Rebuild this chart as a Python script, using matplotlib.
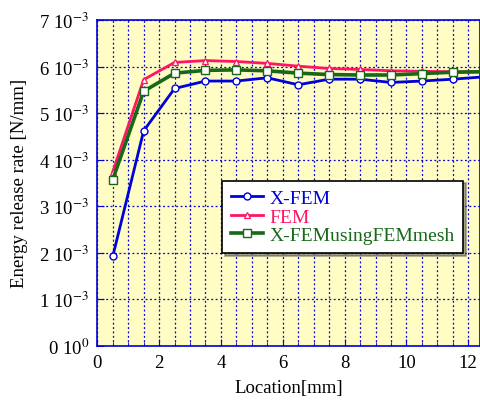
import matplotlib.pyplot as plt
from matplotlib.ticker import MultipleLocator

# ==================== 数据 ====================
location = [0.5, 1.5, 2.5, 3.5, 4.5, 5.5, 6.5, 7.5, 8.5, 9.5, 10.5, 11.5, 12.5]
xfem = [1.92, 4.62, 5.53, 5.69, 5.69, 5.76, 5.61, 5.73, 5.73, 5.66, 5.69, 5.73, 5.78]
fem = [3.74, 5.72, 6.09, 6.13, 6.11, 6.07, 6.01, 5.96, 5.94, 5.91, 5.90, 5.89, 5.89]
xfem_fem_mesh = [3.57, 5.47, 5.86, 5.92, 5.93, 5.91, 5.86, 5.83, 5.82, 5.82, 5.85, 5.88, 5.89]

series_names = ['X-FEM', 'FEM', 'X-FEMusingFEMmesh']
y_ticks = [0, 1, 2, 3, 4, 5, 6, 7]
y_tick_labels = ['0 10$^{0}$'] + ['%d 10$^{-3}$' % v for v in y_ticks[1:]]
x_ticks = [0, 2, 4, 6, 8, 10, 12]

# ==================== 样式 ====================
plt.rcParams['font.family'] = ['Liberation Serif', 'DejaVu Serif']
plt.rcParams['mathtext.fontset'] = 'stix'

BLUE = '#0000d8'
PINK = '#ff1466'
GREEN = '#186818'
BG = '#fffcc4'

fig = plt.figure(figsize=(4.8, 4.06), dpi=100)
ax = fig.add_axes([0.2027, 0.146, 0.7973, 0.802])
ax.set_facecolor(BG)

ax.plot(location, [v * 1e-3 for v in xfem], color=BLUE, lw=2.0, marker='o',
        markersize=5, markerfacecolor='white', markeredgecolor=BLUE,
        markeredgewidth=1.0, label=series_names[0], zorder=3)
ax.plot(location, [v * 1e-3 for v in fem], color=PINK, lw=2.0, marker='^',
        markersize=4, markerfacecolor='white', markeredgecolor=PINK,
        markeredgewidth=0.9, label=series_names[1], zorder=3)
ax.plot(location, [v * 1e-3 for v in xfem_fem_mesh], color=GREEN, lw=2.6,
        marker='s', markersize=5.5, markerfacecolor='white', markeredgecolor=GREEN,
        markeredgewidth=1.0, label=series_names[2], zorder=3)

ax.set_xlim(0, 12.38)
ax.set_ylim(0, 7e-3)
ax.set_xticks(x_ticks)
ax.xaxis.set_minor_locator(MultipleLocator(0.5))
ax.set_yticks([v * 1e-3 for v in y_ticks])
ax.set_yticklabels(y_tick_labels)

for side in ['left', 'bottom', 'top', 'right']:
    ax.spines[side].set_color(BLUE)
    ax.spines[side].set_linewidth(1.2)
ax.tick_params(which='both', direction='in', color=BLUE, labelsize=13.5,
               labelcolor='black', pad=6, grid_color=BLUE)
ax.tick_params(which='major', length=5)
ax.tick_params(which='minor', length=3)

ax.grid(which='both', axis='x', color=BLUE, linestyle=(0, (1.5, 2)), lw=0.9)
ax.grid(which='major', axis='y', color=BLUE, linestyle=(0, (1.5, 2)), lw=0.9)

ax.set_xlabel('Location[mm]', fontsize=13.5, labelpad=6)
ax.set_ylabel('Energy release rate [N/mm]', fontsize=13.5, labelpad=8)

leg = ax.legend(loc='upper left', bbox_to_anchor=(0.327, 0.507), fontsize=14,
                frameon=True, fancybox=False, shadow=True, framealpha=1,
                handlelength=1.65, handletextpad=0.3, borderpad=0.45,
                labelspacing=0.05, borderaxespad=0)
leg.get_frame().set_edgecolor('black')
leg.get_frame().set_linewidth(1.2)
for text, c in zip(leg.get_texts(), [BLUE, PINK, GREEN]):
    text.set_color(c)

plt.savefig('out.png', dpi=100)
